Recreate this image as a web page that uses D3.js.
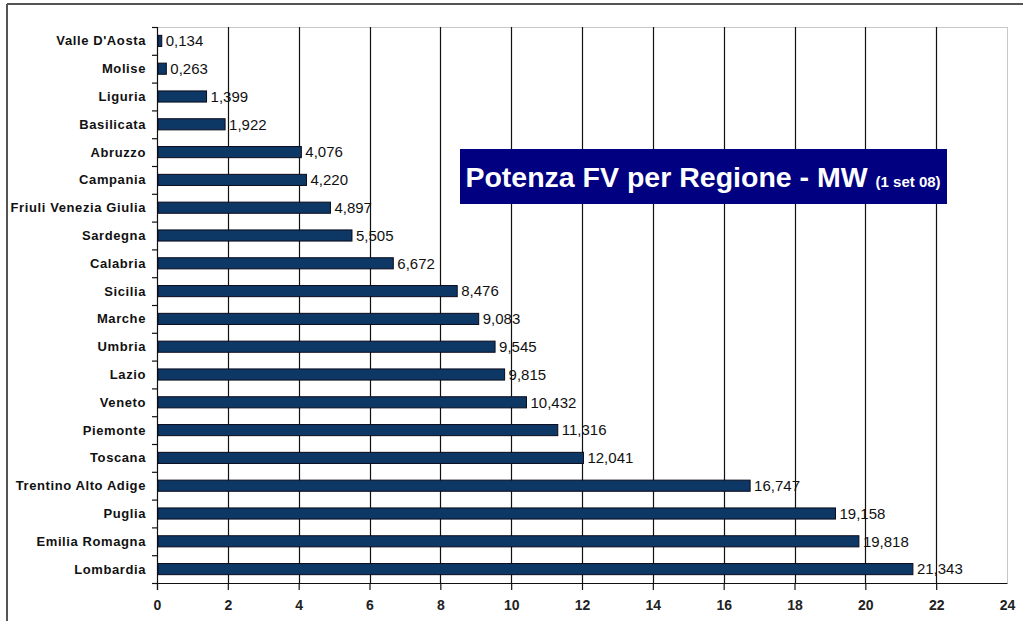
<!DOCTYPE html>
<html>
<head>
<meta charset="utf-8">
<script src="https://cdn.jsdelivr.net/npm/d3@7"></script>
<style>
  body { margin: 0; background: #fff; }
  text { font-family: "Liberation Sans", Arial, sans-serif; }
</style>
</head>
<body>
<div id="chart"></div>
<script>
// data
var regions = ["Valle D'Aosta", "Molise", "Liguria", "Basilicata", "Abruzzo", "Campania",
  "Friuli Venezia Giulia", "Sardegna", "Calabria", "Sicilia", "Marche", "Umbria", "Lazio",
  "Veneto", "Piemonte", "Toscana", "Trentino Alto Adige", "Puglia", "Emilia Romagna", "Lombardia"];
var potenza = [0.134, 0.263, 1.399, 1.922, 4.076, 4.220, 4.897, 5.505, 6.672, 8.476, 9.083,
  9.545, 9.815, 10.432, 11.316, 12.041, 16.747, 19.158, 19.818, 21.343];
var xTicks = [0, 2, 4, 6, 8, 10, 12, 14, 16, 18, 20, 22, 24];
var titleMain = "Potenza FV per Regione - MW";
var titleSub = "(1 set 08)";

var W = 1031, H = 621;
var margin = {top: 27, right: 24, bottom: 38, left: 157},
    width = W - margin.left - margin.right,
    height = H - margin.top - margin.bottom;

var svg = d3.select("#chart").append("svg")
    .attr("width", W)
    .attr("height", H);

// outer frame (only top and left show)
svg.append("line").attr("x1", 7).attr("x2", 1023).attr("y1", 4).attr("y2", 4)
  .attr("stroke", "#555").attr("stroke-width", 2);
svg.append("line").attr("x1", 7).attr("x2", 7).attr("y1", 4).attr("y2", H)
  .attr("stroke", "#555").attr("stroke-width", 2);

var g = svg.append("g").attr("transform", `translate(${margin.left},${margin.top})`);

var x = d3.scaleLinear().domain([0, 24]).range([0, width]);
var y = d3.scaleBand().domain(regions).range([0, height]).paddingInner(0.6).paddingOuter(0.3);
var yb = d3.scaleBand().domain(regions).range([0, height]);

// plot frame
g.append("line").attr("x1", 0).attr("x2", width).attr("y1", 0.5).attr("y2", 0.5).attr("stroke", "#c8c8c8");
g.append("line").attr("x1", width + 0.5).attr("x2", width + 0.5).attr("y1", 0).attr("y2", height).attr("stroke", "#c8c8c8");

// grid lines
g.selectAll(".grid")
  .data(xTicks.filter(d => d > 0 && d < 24))
  .join("line")
    .attr("x1", d => Math.round(x(d)) + 0.5)
    .attr("x2", d => Math.round(x(d)) + 0.5)
    .attr("y1", 0)
    .attr("y2", height)
    .attr("stroke", "#111")
    .attr("stroke-width", 1.2);

// X axis
var xAxis = g.append("g")
  .attr("transform", `translate(0,${height})`)
  .call(d3.axisBottom(x).tickValues(xTicks).tickSize(7).tickSizeOuter(0).tickPadding(10));
xAxis.select(".domain").attr("stroke", "#111").attr("stroke-width", 1.2);
xAxis.selectAll(".tick line").attr("stroke", "#111").attr("stroke-width", 1.2);
xAxis.selectAll(".tick").filter(d => d === 24).select("line").remove();
xAxis.selectAll("text")
  .style("font-size", "14px")
  .style("font-weight", "bold")
  .attr("fill", "#222");

// Y axis: ticks on band boundaries
g.append("line").attr("x1", 0.5).attr("x2", 0.5).attr("y1", 0).attr("y2", height + 7)
  .attr("stroke", "#111").attr("stroke-width", 1.2);
g.selectAll(".ytick")
  .data(regions.concat(["__end"]))
  .join("line")
    .attr("x1", -5).attr("x2", 0)
    .attr("y1", (d, i) => i < regions.length ? yb(d) + 0.5 : height + 0.5)
    .attr("y2", (d, i) => i < regions.length ? yb(d) + 0.5 : height + 0.5)
    .attr("stroke", "#111").attr("stroke-width", 1.2);

g.selectAll(".ylab")
  .data(regions)
  .join("text")
    .attr("x", -11)
    .attr("y", d => yb(d) + yb.bandwidth() / 2)
    .attr("dy", "0.35em")
    .attr("text-anchor", "end")
    .style("font-size", "13px")
    .style("letter-spacing", "0.6px")
    .style("font-weight", "bold")
    .attr("fill", "#111")
    .text(d => d);

// bars
g.selectAll(".bar")
  .data(potenza)
  .join("rect")
    .attr("x", 1)
    .attr("y", (d, i) => y(regions[i]))
    .attr("width", d => x(d) - 1)
    .attr("height", y.bandwidth())
    .attr("fill", "#0d3866")
    .attr("stroke", "#0a0a1a")
    .attr("stroke-width", 1);

// value labels
var fmt = d3.formatLocale({decimal: ",", thousands: ".", grouping: [3], currency: ["", "€"]}).format(".3f");
g.selectAll(".val")
  .data(potenza)
  .join("text")
    .attr("x", d => x(d) + 4)
    .attr("y", (d, i) => y(regions[i]) + y.bandwidth() / 2)
    .attr("dy", "0.35em")
    .style("font-size", "15px")
    .attr("fill", "#111")
    .text(d => fmt(d));

// title box
var tb = svg.append("g").attr("transform", "translate(460,149)");
tb.append("rect").attr("width", 487).attr("height", 55).attr("fill", "#000080");
var tt = tb.append("text")
  .attr("x", 243).attr("y", 38)
  .attr("text-anchor", "middle")
  .attr("fill", "#fff")
  .style("font-weight", "bold");
tt.append("tspan").style("font-size", "28.5px").text(titleMain + " ");
tt.append("tspan").style("font-size", "15px").text(titleSub);
</script>
</body>
</html>
